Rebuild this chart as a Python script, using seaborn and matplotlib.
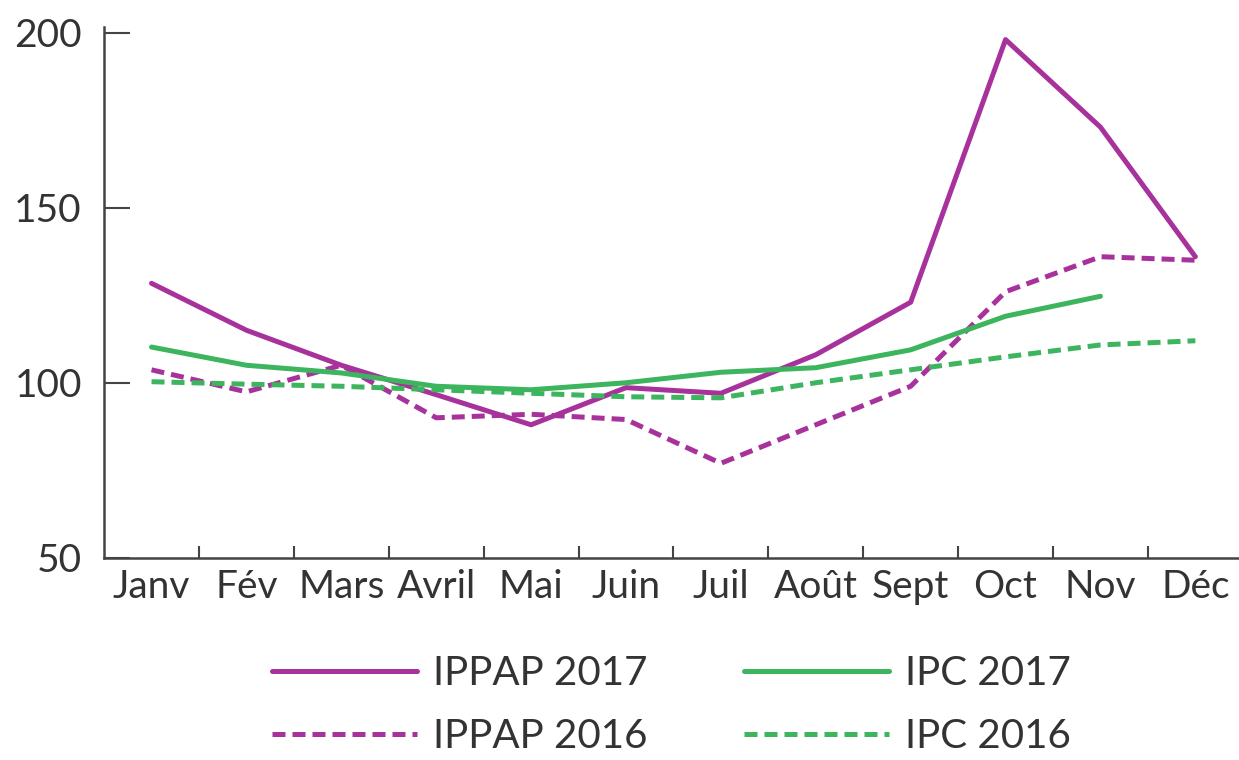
import pandas as pd
import numpy as np
import matplotlib.pyplot as plt
import seaborn as sns
from matplotlib.ticker import FixedLocator

sns.set_style("white")
plt.rcParams['font.family'] = ['Lato', 'DejaVu Sans']

months = ["Janv", "Fév", "Mars", "Avril", "Mai", "Juin",
          "Juil", "Août", "Sept", "Oct", "Nov", "Déc"]

ippap_2017 = [128.4, 115, 105, 96.6, 88, 98.6, 97, 108, 123, 198, 173, 136]
ippap_2016 = [103.7, 97.4, 105, 90, 91, 89.5, 77, 88, 99, 126, 136, 135]
ipc_2017 = [110.2, 105, 102.8, 99, 98, 100, 103, 104.3, 109.4, 119, 124.7, np.nan]
ipc_2016 = [100.3, 99.6, 99, 98, 97, 96, 95.7, 100, 103.7, 107.4, 110.8, 112]

series = {
    "IPPAP 2017": ippap_2017,
    "IPPAP 2016": ippap_2016,
    "IPC 2017": ipc_2017,
    "IPC 2016": ipc_2016,
}

purple = "#A8329C"
green = "#3DB55E"
palette = {"IPPAP 2017": purple, "IPPAP 2016": purple,
           "IPC 2017": green, "IPC 2016": green}
dashes = {"IPPAP 2017": "", "IPPAP 2016": (2.6, 1.4),
          "IPC 2017": "", "IPC 2016": (2.6, 1.4)}

rows = []
for name, vals in series.items():
    for i, v in enumerate(vals):
        rows.append({"idx": i, "value": v, "series": name})
df = pd.DataFrame(rows).dropna()

fig = plt.figure(figsize=(12.39, 7.6), dpi=100)
ax = fig.add_axes([0.084, 0.266, 0.916, 0.698])

sns.lineplot(data=df, x="idx", y="value", hue="series", style="series",
             palette=palette, dashes=dashes, linewidth=3.6, ax=ax,
             hue_order=list(series.keys()), style_order=list(series.keys()))

ax.set_xlim(-0.5, 11.46)
ax.set_ylim(50, 201.5)
ax.set_xlabel("")
ax.set_ylabel("")

ax.set_yticks([50, 100, 150, 200])
ax.tick_params(axis="y", left=True, direction="in", length=19, width=1.5,
               color="#444444", labelsize=28, pad=16, labelcolor="#333333")

ax.set_xticks(range(12))
ax.set_xticklabels(months)
ax.xaxis.set_minor_locator(FixedLocator(np.arange(0.5, 11, 1)))
ax.tick_params(axis="x", which="major", bottom=False, length=0, labelsize=28,
               pad=8, labelcolor="#333333")
ax.tick_params(axis="x", which="minor", bottom=True, direction="in", length=9,
               width=1.5, color="#444444")

for s in ["top", "right"]:
    ax.spines[s].set_visible(False)
for s in ["left", "bottom"]:
    ax.spines[s].set_color("#444444")
    ax.spines[s].set_linewidth(1.8)

handles, labels = ax.get_legend_handles_labels()
lookup = dict(zip(labels, handles))
order = ["IPPAP 2017", "IPPAP 2016", "IPC 2017", "IPC 2016"]
ax.legend([lookup[k] for k in order], order, loc="upper center",
          bbox_to_anchor=(0.5, -0.115), ncol=2, frameon=False,
          fontsize=29, handlelength=3.6, handletextpad=0.4,
          columnspacing=2.4, labelspacing=0.65, labelcolor="#333333")

fig.savefig("out.png", dpi=100)
plt.close()
